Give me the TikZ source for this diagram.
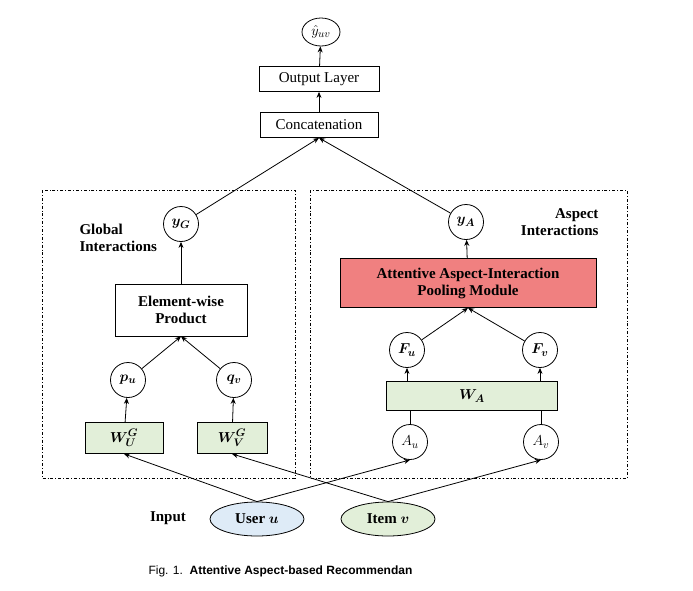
\documentclass[tikz,border=0pt]{standalone}
\usepackage{fontspec}
\usepackage{amsmath,bm}
\setmainfont{Liberation Serif}
\newfontfamily\capfont{Liberation Sans}
\usetikzlibrary{arrows.meta,shapes.geometric}
\definecolor{gfill}{HTML}{E2EFD9}
\definecolor{bfill}{HTML}{DEEBF7}
\definecolor{pfill}{HTML}{F08080}
\begin{document}
\begin{tikzpicture}[x=1pt,y=-1pt,
  every node/.style={font=\fontsize{15}{17}\selectfont},
  box/.style={draw,thick,minimum height=25pt,inner sep=2pt,align=center},
  circ/.style={draw,thick,circle,minimum size=35pt,inner sep=0pt},
  arr/.style={thick,-{Stealth[length=6pt,width=5pt]}},
  frame/.style={thick,dash dot}]
\useasboundingbox (0,0) rectangle (693,590);
\node[draw,thick,ellipse,minimum width=38pt,minimum height=28pt,inner sep=0pt] (yhat) at (321,32) {$\hat{y}_{uv}$};
\node[box,minimum width=120pt] (out) at (319,79) {Output Layer};
\node[box,minimum width=118pt] (cat) at (319,125) {Concatenation};
\draw[frame] (42,190) rectangle (295,478);
\draw[frame] (310,190) rectangle (627,478);
\node[circ] (yG) at (181,224) {$\bm{y_G}$};
\node[circ] (yA) at (466,222) {$\bm{y_A}$};
\node[font=\fontsize{15}{17}\selectfont\bfseries,align=left,anchor=west] (gl) at (76,238) {Global\\Interactions};
\node[font=\fontsize{15}{17}\selectfont\bfseries,align=right,anchor=east] (al) at (602,222) {Aspect\\Interactions};
\node[box,font=\fontsize{15}{17}\selectfont\bfseries,minimum width=132pt,minimum height=52pt] (ew) at (181,310) {Element-wise\\Product};
\node[box,fill=pfill,font=\fontsize{15}{17}\selectfont\bfseries,minimum width=256pt,minimum height=49pt] (att) at (468,283) {Attentive Aspect-Interaction\\Pooling Module};
\node[circ] (pu) at (128,380) {$\bm{p_u}$};
\node[circ] (qv) at (234,380) {$\bm{q_v}$};
\node[circ] (Fu) at (407,350) {$\bm{F_u}$};
\node[circ] (Fv) at (540,350) {$\bm{F_v}$};
\node[box,fill=gfill,minimum width=171pt,minimum height=29pt] (WA) at (472,396) {$\bm{W_A}$};
\node[box,fill=gfill,minimum width=78pt,minimum height=31pt] (WU) at (124,438) {$\bm{W_U^G}$};
\node[box,fill=gfill,minimum width=70pt,minimum height=31pt] (WV) at (232,438) {$\bm{W_V^G}$};
\node[circ] (Au) at (410,442) {$A_u$};
\node[circ] (Av) at (541,442) {$A_v$};
\node[font=\fontsize{15}{17}\selectfont\bfseries] (inp) at (168,518) {Input};
\node[draw,thick,ellipse,fill=bfill,minimum width=94pt,minimum height=34pt,font=\fontsize{15}{17}\selectfont\bfseries] (user) at (257,519) {User $\bm{u}$};
\node[draw,thick,ellipse,fill=gfill,minimum width=94pt,minimum height=34pt,font=\fontsize{15}{17}\selectfont\bfseries] (item) at (388,519) {Item $\bm{v}$};
\node[anchor=west,font=\capfont\fontsize{12}{14}\selectfont] (cap) at (145,571) {Fig. 1.\ \ \textbf{Attentive Aspect-based Recommendan}};
% connectors
\draw[arr] (out) -- (yhat);
\draw[arr] (cat) -- (out);
\draw[arr] (yG) -- (cat.south);
\draw[arr] (yA) -- (cat.south);
\draw[arr] (ew) -- (yG);
\draw[arr] (att) -- (yA);
\draw[arr] (pu) -- (ew.south);
\draw[arr] (qv) -- (ew.south);
\draw[arr] (Fu) -- (att.south);
\draw[arr] (Fv) -- (att.south);
\draw[arr] (WA.north -| Fu) -- (Fu);
\draw[arr] (WA.north -| Fv) -- (Fv);
\draw[thick] (Au) -- (WA.south -| Au);
\draw[thick] (Av) -- (WA.south -| Av);
\draw[arr] (WU) -- (pu);
\draw[arr] (WV) -- (qv);
\draw[arr] (user.north) -- (WU.south);
\draw[arr] (user.north) -- (Au.south);
\draw[arr] (item.north) -- (WV.south);
\draw[arr] (item.north) -- (Av.south);
\end{tikzpicture}
\end{document}
